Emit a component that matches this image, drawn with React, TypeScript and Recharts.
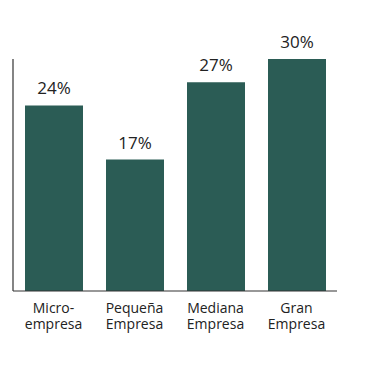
import { Bar, BarChart, LabelList, XAxis, YAxis } from "recharts";

const categories = ["Micro-\nempresa", "Pequeña\nEmpresa", "Mediana\nEmpresa", "Gran\nEmpresa"];
const shares = [24, 17, 27, 30];
const yDomain: [number, number] = [0, 30];

const data = categories.map((c, i) => ({ name: c, value: shares[i] }));

const BAR = "#2B5C55";
const AXIS = "#333333";
const TEXT = "#222222";
const FONT = "'Open Sans', sans-serif";

function Tick(props: any) {
  const { x, y, payload } = props;
  const lines = String(payload.value).split("\n");
  return (
    <g>
      {lines.map((l, i) => (
        <text
          key={i}
          x={x}
          y={y + 14 + i * 16}
          textAnchor="middle"
          fill={TEXT}
          fontSize={14}
          fontFamily={FONT}
        >
          {l}
        </text>
      ))}
    </g>
  );
}

export default function App() {
  return (
    <div style={{ position: "absolute", left: 0, top: 0, background: "#fff" }}>
      <BarChart
        width={368}
        height={365}
        data={data}
        margin={{ top: 59, right: 31, left: 12, bottom: 0 }}
      >
        <XAxis
          dataKey="name"
          height={74}
          tickLine={false}
          axisLine={{ stroke: AXIS, strokeWidth: 1.2 }}
          tick={<Tick />}
          interval={0}
        />
        <YAxis
          width={1}
          domain={yDomain}
          tick={false}
          tickLine={false}
          axisLine={{ stroke: AXIS, strokeWidth: 1.2 }}
        />
        <Bar dataKey="value" fill={BAR} barSize={58} isAnimationActive={false}>
          <LabelList
            dataKey="value"
            position="top"
            offset={11}
            fill={TEXT}
            fontSize={17}
            fontFamily={FONT}
            formatter={(v: any) => `${v}%`}
          />
        </Bar>
      </BarChart>
    </div>
  );
}
